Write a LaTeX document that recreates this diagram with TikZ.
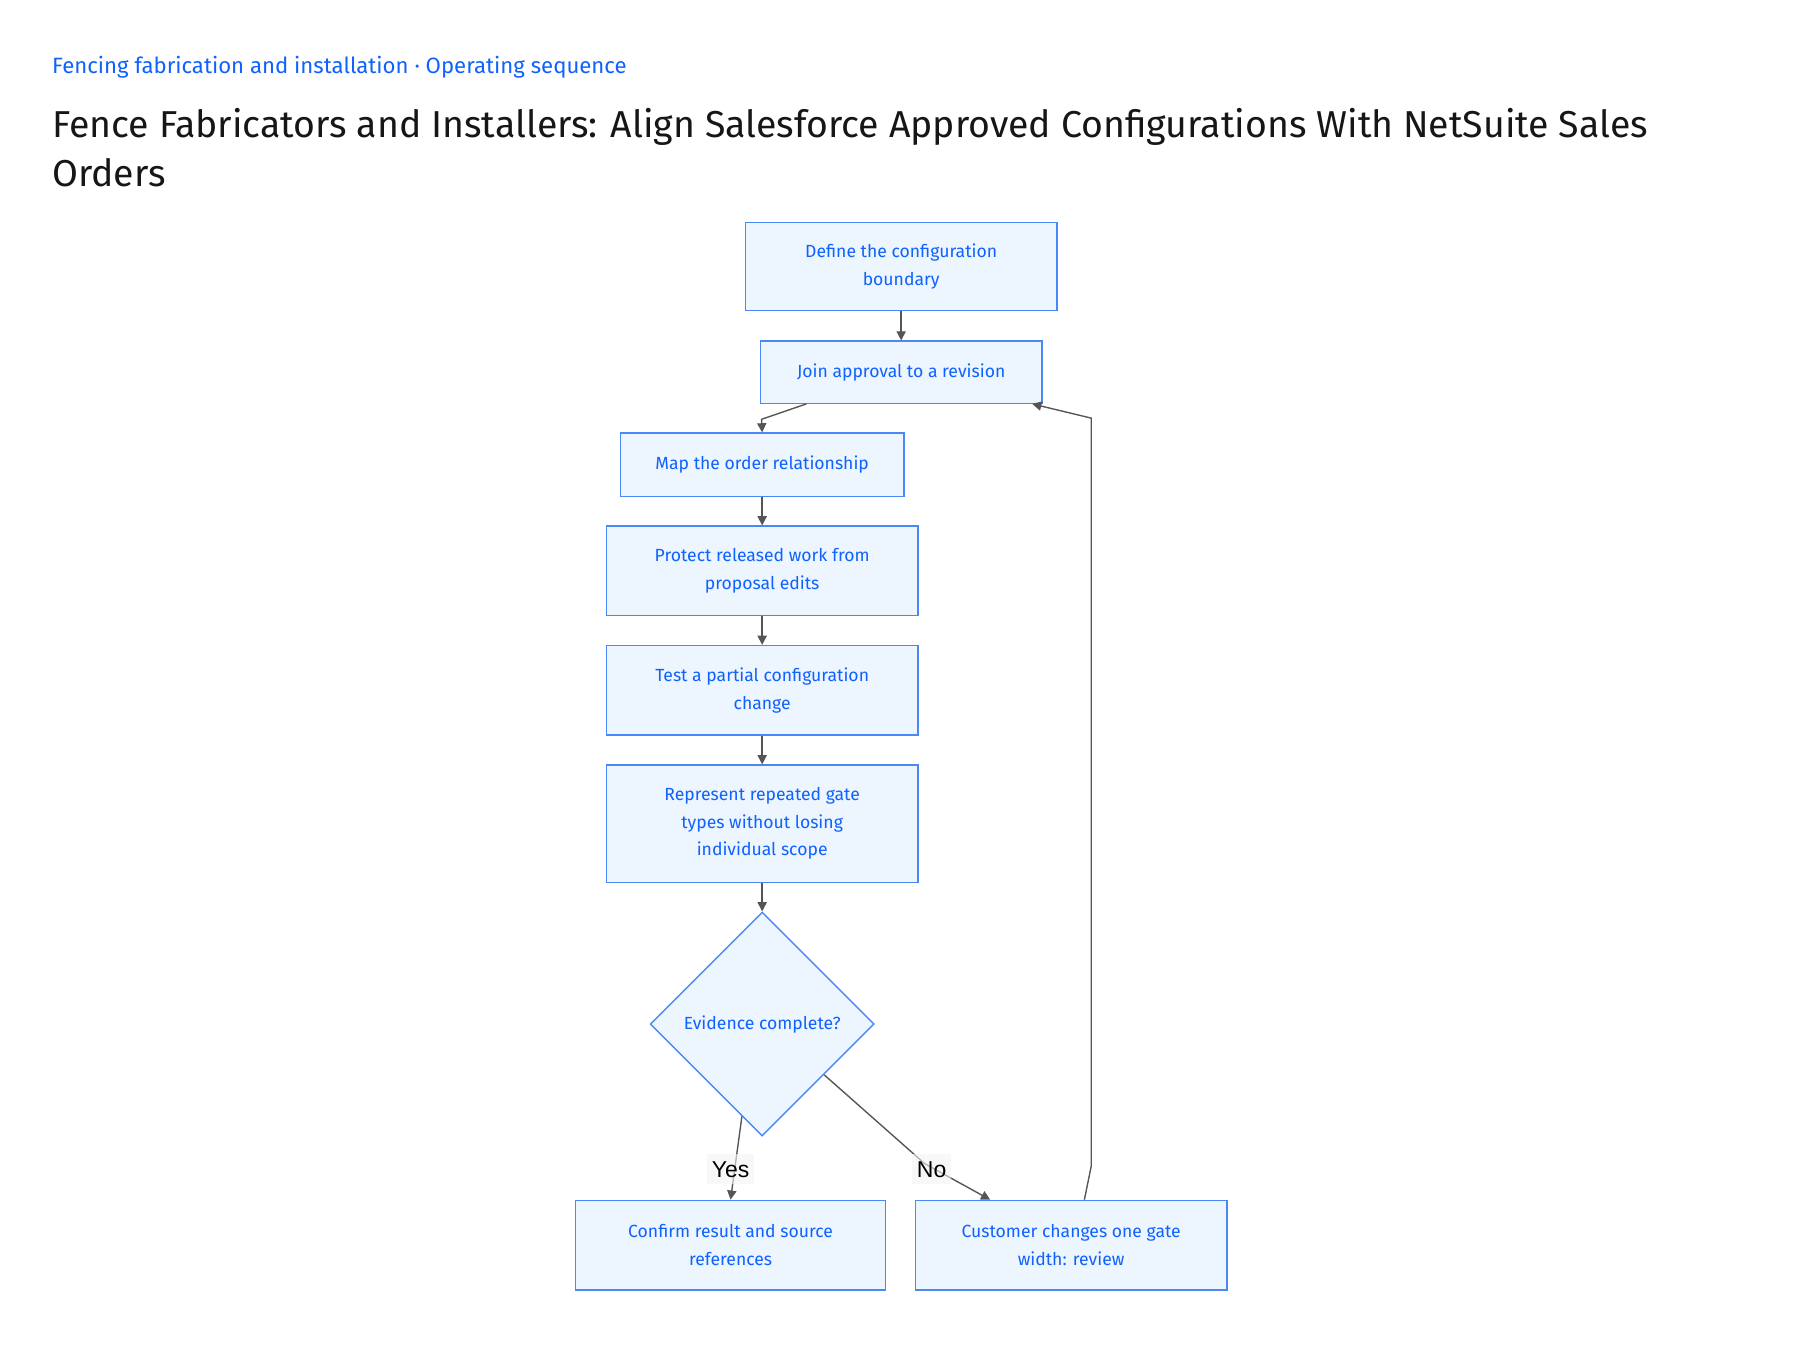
\documentclass[tikz,border=0pt]{standalone}
\usepackage{fontspec}
\setmainfont{Fira Sans}
\newfontfamily\labelfont{Liberation Sans}
\usetikzlibrary{shapes.geometric,arrows.meta,calc}
\definecolor{nodefill}{HTML}{EDF5FF}
\definecolor{nodeborder}{HTML}{4A88F5}
\definecolor{nodetext}{HTML}{0F62FE}
\definecolor{edgecol}{HTML}{555555}
\definecolor{titlecol}{HTML}{161616}
\definecolor{subcol}{HTML}{0F62FE}
\begin{document}
\begin{tikzpicture}[x=0.5pt,y=-0.5pt,
  stepbox/.style={draw=nodeborder,fill=nodefill,text=nodetext,line width=0.6pt,
    inner sep=0pt,align=center,font=\fontsize{7.65}{12}\selectfont},
  decision/.style={diamond,aspect=1,draw=nodeborder,fill=nodefill,text=nodetext,line width=0.6pt,
    inner sep=0pt,minimum width=97.5pt,minimum height=97.5pt,align=center,font=\fontsize{7.65}{12}\selectfont},
  flow/.style={draw=edgecol,line width=0.6pt,-{Triangle[length=4pt,width=4pt]}},
  lbl/.style={font=\labelfont\fontsize{10}{12}\selectfont,text=black,fill=gray!9,fill opacity=0.6,text opacity=1,
    inner xsep=2pt,inner ysep=0pt,minimum height=13pt}
]
\useasboundingbox[fill=white] (0,0) rectangle (1567,1175);
\node[anchor=base west,text=subcol,font=\fontsize{9.65}{12}\selectfont,inner sep=0pt] (sub) at (45,64) {Fencing fabrication and installation · Operating sequence};
\node[anchor=base west,text=titlecol,font=\fontsize{16.3}{21}\selectfont,inner sep=0pt] (title1) at (45,120) {Fence Fabricators and Installers: Align Salesforce Approved Configurations With NetSuite Sales};
\node[anchor=base west,text=titlecol,font=\fontsize{16.3}{21}\selectfont,inner sep=0pt] (title2) at (45,162) {Orders};

\node[stepbox,minimum width=135.5pt,minimum height=38.5pt] (define) at (784.5,232) {Define the configuration\\boundary};
\node[stepbox,minimum width=122.5pt,minimum height=27pt] (join) at (784.5,324) {Join approval to a revision};
\node[stepbox,minimum width=123.5pt,minimum height=27.5pt] (map) at (663.5,404.5) {Map the order relationship};
\node[stepbox,minimum width=135.5pt,minimum height=39pt] (protect) at (663.5,497) {Protect released work from\\proposal edits};
\node[stepbox,minimum width=135.5pt,minimum height=39pt] (test) at (663.5,601) {Test a partial configuration\\change};
\node[stepbox,minimum width=135.5pt,minimum height=51pt] (repr) at (663.5,717) {Represent repeated gate\\types without losing\\individual scope};
\node[decision] (dec) at (663.5,891.5) {Evidence complete?};
\node[stepbox,minimum width=135pt,minimum height=39pt] (confirm) at (636,1084) {Confirm result and source\\references};
\node[stepbox,minimum width=135.5pt,minimum height=39pt] (cust) at (932.5,1084) {Customer changes one gate\\width: review};

\draw[flow] (define) -- (join);
\draw[flow] ([xshift=-41.25pt]join.south) -- (663,365) -- (map.north);
\draw[flow] (map) -- (protect);
\draw[flow] (protect) -- (test);
\draw[flow] (test) -- (repr);
\draw[flow] (repr) -- (dec.north);
\draw[flow] ($(dec.south)!0.18!(dec.west)$) -- (confirm.north);
\draw[flow] ($(dec.east)!0.45!(dec.south)$) -- (805,1013) -- ([xshift=-35.25pt]cust.north);
\draw[flow] ([xshift=5.75pt]cust.north) -- (950,1015) -- (950,364) -- ([xshift=-4.5pt]join.south east);

\node[lbl] (yes) at (636,1018) {Yes};
\node[lbl] (no) at (811,1018) {No};
\end{tikzpicture}
\end{document}
